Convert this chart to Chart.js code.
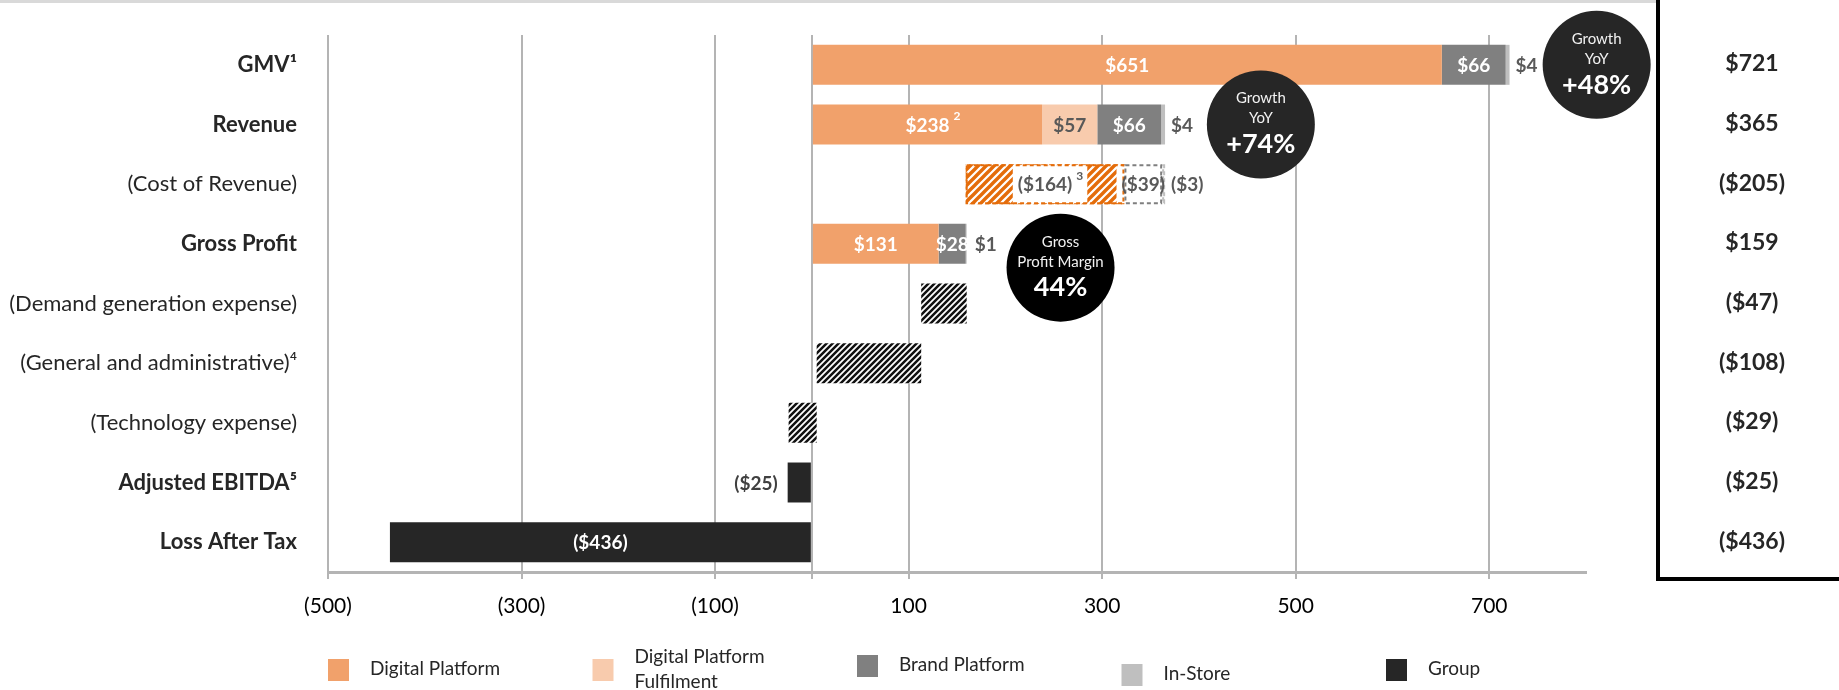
<!DOCTYPE html>
<html>
<head>
<meta charset="utf-8">
<title>GMV to Loss After Tax bridge</title>
<script src="https://cdn.jsdelivr.net/npm/chart.js@4.4.1/dist/chart.umd.min.js"></script>
<style>
  html, body { margin: 0; padding: 0; background: #fff; }
  #wrap { width: 1839px; height: 690px; }
</style>
</head>
<body>
<div id="wrap"><canvas id="bridge" width="1839" height="690"></canvas></div>
<script>
// rows of the bridge, top to bottom
const categories = [
  'GMV¹', 'Revenue', '(Cost of Revenue)', 'Gross Profit',
  '(Demand generation expense)', '(General and administrative)⁴',
  '(Technology expense)', 'Adjusted EBITDA⁵', 'Loss After Tax'
];
// 'total' rows start from zero, 'step' rows hang off the previous row
const rowKind = ['total', 'total', 'step', 'total', 'step', 'step', 'step', 'total', 'total'];

const digitalPlatform   = [651, 238, -164, 131, null, null, null, null, null];
const digitalFulfilment = [null, 57, null, null, null, null, null, null, null];
const brandPlatform     = [66, 66, -39, 28, null, null, null, null, null];
const inStore           = [4, 4, -3, 1, null, null, null, null, null];
const group             = [null, null, null, null, -47, -108, -29, -25, -436];
const rowTotals         = [721, 365, -205, 159, -47, -108, -29, -25, -436];

const xTicks = [-500, -300, -100, 0, 100, 300, 500, 700];

// footnote markers next to some segment labels: series key -> row -> marker
const footnotes = { dp: { 1: '2', 2: '3' } };

const callouts = [
  { lines: ['Growth', 'YoY'], big: '+48%', row: 0, at: 811, fill: '#262626' },
  { lines: ['Growth', 'YoY'], big: '+74%', row: 1, at: 464, fill: '#262626' },
  { lines: ['Gross', 'Profit Margin'], big: '44%', row: 3.4, at: 257, fill: '#000000' }
];

const FONT = 'Lato, "Open Sans", sans-serif';
const canvas = document.getElementById('bridge');
const ctx = canvas.getContext('2d');

function hatch(color, size, width) {
  const c = document.createElement('canvas');
  c.width = c.height = size;
  const g = c.getContext('2d');
  g.fillStyle = '#ffffff';
  g.fillRect(0, 0, size, size);
  g.strokeStyle = color;
  g.lineWidth = width;
  g.beginPath();
  g.moveTo(-size / 2, size / 2); g.lineTo(size / 2, -size / 2);
  g.moveTo(0, size); g.lineTo(size, 0);
  g.moveTo(size / 2, size * 1.5); g.lineTo(size * 1.5, size / 2);
  g.stroke();
  return ctx.createPattern(c, 'repeat');
}
const orangeHatch = hatch('#E46C0A', 8, 3.4);
const blackHatch = hatch('#111111', 6, 2.5);

const series = [
  { key: 'dp', label: ['Digital Platform'], values: digitalPlatform, color: '#F1A16B',
    stepFill: orangeHatch, stepBorder: '#E46C0A', text: '#FFFFFF' },
  { key: 'dpf', label: ['Digital Platform', 'Fulfilment'], values: digitalFulfilment, color: '#F8CBAD',
    stepFill: '#FFFFFF', stepBorder: '#F8CBAD', text: '#595959' },
  { key: 'brand', label: ['Brand Platform'], values: brandPlatform, color: '#808080',
    stepFill: '#FFFFFF', stepBorder: '#7F7F7F', text: '#FFFFFF' },
  { key: 'store', label: ['In-Store'], values: inStore, color: '#BFBFBF',
    stepFill: '#FFFFFF', stepBorder: '#BFBFBF', text: '#595959', outside: true },
  { key: 'group', label: ['Group'], values: group, color: '#262626',
    stepFill: blackHatch, text: '#FFFFFF' }
];

// turn the segment values into floating [start, end] ranges
const ranges = series.map(() => categories.map(() => null));
let level = 0;
categories.forEach((_, i) => {
  const vals = series.map(s => s.values[i]);
  const sum = vals.reduce((a, v) => a + (v || 0), 0);
  if (rowKind[i] === 'total') {
    let cursor = 0;
    vals.forEach((v, k) => {
      if (v == null) return;
      ranges[k][i] = [cursor, cursor + v];
      cursor += v;
    });
    level = cursor;
  } else {
    let cursor = level + sum;
    vals.forEach((v, k) => {
      if (v == null) return;
      ranges[k][i] = [cursor, cursor - v];
      cursor -= v;
    });
    level = level + sum;
  }
});

const money = v => v < 0 ? `($${-v})` : `$${v}`;

const bridgeDecor = {
  id: 'bridgeDecor',
  afterDatasetsDraw(chart) {
    const c = chart.ctx;
    const labelFont = `bold 19px ${FONT}`;
    const supFont = `bold 12px ${FONT}`;
    const jobs = [];
    const rowRight = {};

    series.forEach((s, k) => {
      const meta = chart.getDatasetMeta(k);
      meta.data.forEach((bar, i) => {
        const v = s.values[i];
        if (v == null) return;
        const p = bar.getProps(['x', 'y', 'base', 'height'], true);
        const left = Math.min(p.x, p.base), right = Math.max(p.x, p.base);
        const top = p.y - p.height / 2, bottom = p.y + p.height / 2;
        const step = rowKind[i] === 'step';

        if (step && s.key !== 'group') {
          jobs.push({ kind: 'border', left, right, top, bottom, color: s.stepBorder });
        }
        if (step && s.key === 'group') return;

        const text = money(v);
        c.font = labelFont;
        const tw = c.measureText(text).width;
        const sup = footnotes[s.key] && footnotes[s.key][i];
        let tx, color = step ? '#595959' : s.text;
        if (s.outside) {
          tx = Math.max(right + 6, (rowRight[i] || 0) + 6);
          color = '#595959';
        } else if (s.key === 'group' && right - left < tw + 14) {
          tx = left - 10 - tw;
          color = '#404040';
        } else {
          tx = (left + right) / 2 - tw / 2;
        }
        let supW = 0;
        if (sup) { c.font = supFont; supW = c.measureText(sup).width + 4; }
        rowRight[i] = tx + tw + supW;
        jobs.push({ kind: 'label', text, sup, tx, tw, supW, y: p.y, color, top, bottom,
          bg: step && !s.outside });
      });
    });

    c.save();
    // white boxes under the cost labels
    jobs.filter(j => j.kind === 'label' && j.bg).forEach(j => {
      c.fillStyle = '#ffffff';
      c.fillRect(j.tx - 5, j.top + 1, j.tw + j.supW + 9, j.bottom - j.top - 2);
    });
    // dashed outlines on the cost segments
    jobs.filter(j => j.kind === 'border').forEach(j => {
      c.setLineDash([4, 3]);
      c.lineWidth = 2;
      c.strokeStyle = j.color;
      c.strokeRect(j.left + 1, j.top + 1, Math.max(j.right - j.left - 2, 1), j.bottom - j.top - 2);
    });
    c.setLineDash([]);
    c.textBaseline = 'middle';
    c.textAlign = 'left';
    jobs.filter(j => j.kind === 'label').forEach(j => {
      c.fillStyle = j.color;
      c.font = labelFont;
      c.fillText(j.text, j.tx, j.y + 1);
      if (j.sup) {
        c.font = supFont;
        c.fillText(j.sup, j.tx + j.tw + 4, j.y - 8);
      }
    });
    c.restore();
  },
  afterDraw(chart) {
    const c = chart.ctx;
    const area = chart.chartArea;
    const xs = chart.scales.x, ys = chart.scales.y;
    const frameX = area.right + 72;
    c.save();

    // thin rule along the top edge
    c.fillStyle = '#D9D9D9';
    c.fillRect(0, 0, frameX, 3);

    // total column and its frame
    c.fillStyle = '#000000';
    c.fillRect(frameX - 2, 0, 4, area.bottom + 9);
    c.fillRect(frameX - 2, area.bottom + 5, chart.width - frameX + 2, 4);
    c.fillStyle = '#262626';
    c.font = `bold 23px ${FONT}`;
    c.textAlign = 'center';
    c.textBaseline = 'middle';
    rowTotals.forEach((t, i) => {
      c.fillText(money(t), area.right + 166, ys.getPixelForValue(i) - 1);
    });

    // round callouts
    callouts.forEach(o => {
      const cx = xs.getPixelForValue(o.at);
      const cy = ys.getPixelForValue(0) + o.row * (ys.getPixelForValue(1) - ys.getPixelForValue(0));
      c.fillStyle = o.fill;
      c.beginPath();
      c.arc(cx, cy, 54, 0, Math.PI * 2);
      c.fill();
      c.fillStyle = '#F2F2F2';
      c.font = `15px ${FONT}`;
      c.fillText(o.lines[0], cx, cy - 26);
      c.fillText(o.lines[1], cx, cy - 6);
      c.fillStyle = '#FFFFFF';
      c.font = `bold 27px ${FONT}`;
      c.fillText(o.big, cx, cy + 20);
    });

    // legend row
    const legendShift = [0, 0, -4, 5, 0];
    c.font = `19px ${FONT}`;
    c.textAlign = 'left';
    series.forEach((s, k) => {
      const lx = area.left + k * 264.5;
      const cy = 670 + legendShift[k];
      c.fillStyle = s.color;
      c.fillRect(lx, cy - 11, 21, 22);
      c.fillStyle = '#262626';
      const n = s.label.length;
      s.label.forEach((line, li) => {
        c.fillText(line, lx + 42, cy + (li - (n - 1) / 2) * 25 - 1);
      });
    });
    c.restore();
  }
};

new Chart(canvas, {
  type: 'bar',
  data: {
    labels: categories,
    datasets: series.map((s, k) => ({
      label: s.label.join(' '),
      data: ranges[k],
      backgroundColor: c => rowKind[c.dataIndex] === 'step' ? s.stepFill : s.color,
      borderWidth: 0,
      grouped: false,
      barPercentage: 0.67,
      categoryPercentage: 1
    }))
  },
  options: {
    indexAxis: 'y',
    responsive: false,
    animation: false,
    layout: { padding: { top: 35, right: 253, left: 0, bottom: 0 } },
    plugins: { legend: { display: false }, tooltip: { enabled: false } },
    scales: {
      x: {
        type: 'linear',
        min: -500,
        max: 800,
        afterBuildTicks: axis => { axis.ticks = xTicks.map(v => ({ value: v })); },
        afterFit: axis => { axis.height = 118; },
        grid: { color: '#B4B4B4', lineWidth: 2, drawTicks: true, tickLength: 7, tickColor: '#B4B4B4' },
        border: { display: true, color: '#B4B4B4', width: 3 },
        ticks: {
          callback: v => v === 0 ? '' : (v < 0 ? `(${-v})` : `${v}`),
          font: { family: FONT, size: 21 },
          color: '#000000',
          padding: 15,
          maxRotation: 0,
          autoSkip: false
        }
      },
      y: {
        type: 'category',
        offset: true,
        afterFit: axis => {
          axis.width = 328;
          // rows fill the full plot height; no extra room for the edge labels
          axis.paddingTop = 0;
          axis.paddingBottom = 0;
        },
        grid: { display: false, drawTicks: false },
        border: { display: false },
        ticks: {
          font: c => ({ family: FONT, size: 22, weight: rowKind[c.index] === 'total' ? 'bold' : 'normal' }),
          color: '#262626',
          padding: 31,
          autoSkip: false
        }
      }
    }
  },
  plugins: [bridgeDecor]
});
</script>
</body>
</html>
